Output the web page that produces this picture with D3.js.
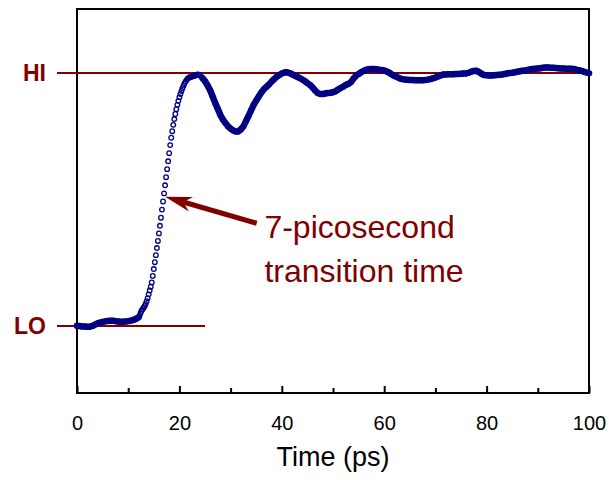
<!DOCTYPE html>
<html>
<head>
<meta charset="utf-8">
<script src="https://cdn.jsdelivr.net/npm/d3@7"></script>
<style>
  body { margin: 0; background: #fff; }
  svg { display: block; font-family: "Liberation Sans", Arial, sans-serif; }
</style>
</head>
<body>
<div id="chart"></div>
<script>
// sampled step response, level 0 = LO, 1 = HI
// baseline: t = 0 .. 12 ps, every 0.5 ps
var baselineLevels = [0.001, 0.000, -0.002, -0.002, -0.003, -0.003, 0.000, 0.005, 0.010, 0.013,
  0.016, 0.018, 0.020, 0.021, 0.021, 0.019, 0.018, 0.017, 0.017, 0.018,
  0.019, 0.021, 0.024, 0.028, 0.034];
// rising edge: t = 12.2 .. 24.0 ps, every 0.2 ps
var riseLevels = [0.040, 0.050, 0.060, 0.066, 0.072, 0.078, 0.087, 0.098, 0.110, 0.125,
  0.140, 0.155, 0.172, 0.198, 0.225, 0.252, 0.280, 0.308, 0.336, 0.366,
  0.396, 0.428, 0.460, 0.492, 0.524, 0.556, 0.588, 0.620, 0.651, 0.683,
  0.715, 0.744, 0.770, 0.795, 0.818, 0.838, 0.857, 0.874, 0.890, 0.904,
  0.917, 0.929, 0.940, 0.950, 0.959, 0.966, 0.972, 0.977, 0.980, 0.983,
  0.984, 0.985, 0.987, 0.988, 0.989, 0.991, 0.993, 0.994, 0.993, 0.990];
// ringing / settling: t = 24.5 .. 100 ps, every 0.5 ps
var settleLevels = [0.980, 0.968, 0.951, 0.932, 0.907, 0.881, 0.858, 0.834, 0.816, 0.802,
  0.789, 0.780, 0.773, 0.769, 0.769, 0.777, 0.789, 0.810, 0.830, 0.852,
  0.874, 0.891, 0.907, 0.923, 0.936, 0.945, 0.955, 0.966, 0.976, 0.985,
  0.992, 0.998, 1.002, 1.003, 1.000, 0.995, 0.990, 0.985, 0.980, 0.974,
  0.968, 0.960, 0.953, 0.943, 0.931, 0.921, 0.917, 0.917, 0.919, 0.921,
  0.922, 0.924, 0.928, 0.935, 0.941, 0.946, 0.953, 0.957, 0.964, 0.978,
  0.990, 0.996, 1.003, 1.009, 1.013, 1.015, 1.016, 1.016, 1.015, 1.013,
  1.012, 1.010, 1.006, 1.001, 0.994, 0.988, 0.984, 0.979, 0.976, 0.974,
  0.973, 0.972, 0.972, 0.971, 0.971, 0.971, 0.971, 0.972, 0.974, 0.976,
  0.979, 0.982, 0.986, 0.990, 0.994, 0.994, 0.995, 0.995, 0.995, 0.996,
  0.996, 0.997, 0.998, 0.998, 1.001, 1.005, 1.008, 1.009, 1.004, 0.997,
  0.992, 0.991, 0.990, 0.990, 0.991, 0.992, 0.993, 0.994, 0.996, 0.998,
  1.000, 1.001, 1.003, 1.005, 1.007, 1.009, 1.010, 1.012, 1.014, 1.016,
  1.017, 1.018, 1.019, 1.021, 1.022, 1.022, 1.021, 1.021, 1.020, 1.019,
  1.018, 1.018, 1.017, 1.017, 1.017, 1.016, 1.013, 1.011, 1.008, 1.005,
  1.002, 0.999];

var majorTicks = [0, 20, 40, 60, 80, 100];
var minorTicks = [10, 30, 50, 70, 90];
var levelNames = ["HI", "LO"];
var levelValues = [1, 0];
var levelEnds = [100, 25];
var noteLines = ["7-picosecond", "transition time"];

var red = "#800000", navy = "#000080";
var width = 609, height = 480;
var margin = {top: 9, right: 20, bottom: 87, left: 77};

var x = d3.scaleLinear().domain([0, 100]).range([margin.left, width - margin.right]);
var y = d3.scaleLinear().domain([-0.265, 1.253]).range([height - margin.bottom, margin.top]);

function samples(t0, step, vals) {
  return vals.map(function(v, i) { return {t: +(t0 + i * step).toFixed(2), v: v}; });
}
var early = samples(0, 0.5, baselineLevels);
var rise = samples(12.2, 0.2, riseLevels);
var late = samples(24.5, 0.5, settleLevels);
var allPts = early.concat(rise, late);

var svg = d3.select("#chart").append("svg")
  .attr("width", width).attr("height", height);

// frame
svg.append("rect")
  .attr("x", x(0)).attr("y", y.range()[1])
  .attr("width", x(100) - x(0)).attr("height", y.range()[0] - y.range()[1])
  .attr("fill", "none").attr("stroke", "#000").attr("stroke-width", 2);

// bottom axis, ticks inward
var axisG = svg.append("g").attr("transform", "translate(0," + y.range()[0] + ")");
axisG.call(d3.axisBottom(x).tickValues(majorTicks).tickSize(-7).tickFormat(d3.format("d")));
axisG.append("g").call(d3.axisBottom(x).tickValues(minorTicks).tickSize(-5).tickFormat(""));
axisG.selectAll(".domain").remove();
axisG.selectAll(".tick line").attr("stroke", "#000").attr("stroke-width", 2);
axisG.selectAll(".tick text")
  .attr("y", 37).attr("dy", null)
  .attr("fill", "#000")
  .style("font-size", "20px");

svg.append("text")
  .attr("x", (x(0) + x(100)) / 2).attr("y", 466)
  .attr("text-anchor", "middle")
  .style("font-size", "27px")
  .text("Time (ps)");

// HI / LO reference levels
levelNames.forEach(function(name, i) {
  svg.append("line")
    .attr("x1", x(0) - 20).attr("x2", x(levelEnds[i]))
    .attr("y1", y(levelValues[i])).attr("y2", y(levelValues[i]))
    .attr("stroke", red).attr("stroke-width", 2);
  svg.append("text")
    .attr("x", x(0) - 31).attr("y", y(levelValues[i]))
    .attr("dy", "0.36em")
    .attr("text-anchor", "end")
    .attr("fill", red)
    .style("font-size", "23px").style("font-weight", "bold")
    .text(name);
});

// trace: thick band where samples are dense, open circles everywhere
var line = d3.line().x(function(d) { return x(d.t); }).y(function(d) { return y(d.v); });
[early, late].forEach(function(seg) {
  svg.append("path").datum(seg)
    .attr("d", line)
    .attr("fill", "none").attr("stroke", navy)
    .attr("stroke-width", 6.5).attr("stroke-linejoin", "round").attr("stroke-linecap", "round");
});
svg.append("g").selectAll("circle")
  .data(allPts)
  .enter().append("circle")
  .attr("cx", function(d) { return x(d.t); })
  .attr("cy", function(d) { return y(d.v); })
  .attr("r", 2.3)
  .attr("fill", "none")
  .attr("stroke", navy)
  .attr("stroke-width", 1.3);

// annotation arrow
var tip = [x(17.2), y(0.511)], tail = [x(35.1), y(0.406)];
var dx = tip[0] - tail[0], dy = tip[1] - tail[1];
var len = Math.sqrt(dx * dx + dy * dy);
var ux = dx / len, uy = dy / len;
var headLen = 27, headW = 7.5, notch = 19;
var notchPt = [tip[0] - ux * notch, tip[1] - uy * notch];
svg.append("line")
  .attr("x1", tail[0]).attr("y1", tail[1])
  .attr("x2", notchPt[0]).attr("y2", notchPt[1])
  .attr("stroke", red).attr("stroke-width", 5);
var head = [
  tip,
  [tip[0] - ux * headLen - uy * headW, tip[1] - uy * headLen + ux * headW],
  notchPt,
  [tip[0] - ux * headLen + uy * headW, tip[1] - uy * headLen - ux * headW]
];
svg.append("path")
  .attr("d", "M" + head.map(function(p) { return p.join(","); }).join("L") + "Z")
  .attr("fill", red);

svg.append("g").selectAll("text")
  .data(noteLines)
  .enter().append("text")
  .attr("x", x(36.6))
  .attr("y", function(d, i) { return 238 + i * 44; })
  .attr("fill", red)
  .style("font-size", "32px")
  .text(function(d) { return d; });
</script>
</body>
</html>
